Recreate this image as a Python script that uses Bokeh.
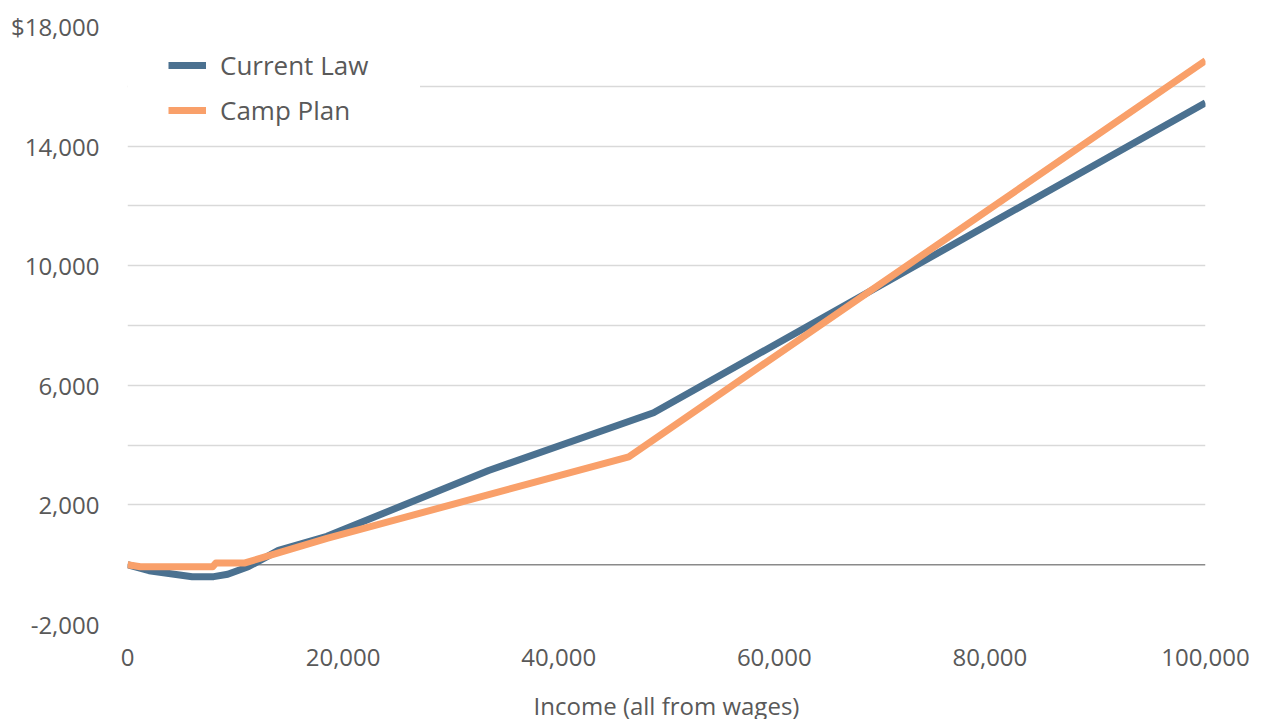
from bokeh.plotting import figure
from bokeh.models import (FixedTicker, Span, Legend, LegendItem, BoxAnnotation,
                          NumeralTickFormatter, Range1d)
from bokeh.embed import file_html
from bokeh.resources import INLINE

# Tax liability by wage income, current law vs. the Camp plan
current_income = [0, 2000, 6000, 8000, 9300, 11200, 14000, 18500, 33500, 48800, 100000]
current_tax = [0, -200, -400, -400, -320, -70, 480, 950, 3150, 5080, 15450]

camp_income = [0, 1200, 7900, 8200, 10900, 18500, 46500, 100000]
camp_tax = [0, -70, -70, 60, 60, 880, 3610, 16860]

x_ticks = [0, 20000, 40000, 60000, 80000, 100000]
y_ticks = [-2000, 0, 2000, 4000, 6000, 8000, 10000, 12000, 14000, 16000, 18000]
y_tick_labels = ["-2,000", "", "2,000", "", "6,000", "", "10,000", "", "14,000", "", "$18,000"]

BLUE = "#4b7190"
ORANGE = "#f9a06a"
TEXT = "#595959"
FONT = "Open Sans"

p = figure(frame_width=1078, frame_height=598,
           min_border_left=127, min_border_right=64,
           min_border_top=26, min_border_bottom=95,
           x_range=Range1d(0, 100000), y_range=Range1d(-2000, 18000),
           output_backend="svg", toolbar_location=None,
           background_fill_color="white", border_fill_color="white")
p.outline_line_color = None

# zero baseline, behind the data lines
p.add_layout(Span(location=0, dimension="width", line_color="#8a8a8a",
                  line_width=1.5, level="underlay"))

r_cur = p.line(current_income, current_tax, line_color=BLUE, line_width=7,
               line_join="round")
r_camp = p.line(camp_income, camp_tax, line_color=ORANGE, line_width=7,
                line_join="round")

# axes
p.xaxis.ticker = FixedTicker(ticks=x_ticks)
p.xaxis.formatter = NumeralTickFormatter(format="0,0")
p.yaxis.ticker = FixedTicker(ticks=y_ticks)
p.yaxis.major_label_overrides = {v: s for v, s in zip(y_ticks, y_tick_labels)}
for ax in (p.xaxis[0], p.yaxis[0]):
    ax.axis_line_color = None
    ax.major_tick_line_color = None
    ax.minor_tick_line_color = None
    ax.major_label_text_font = FONT
    ax.major_label_text_font_size = "24px"
    ax.major_label_text_color = TEXT
p.yaxis.major_label_standoff = 22
p.xaxis.major_label_standoff = 18
p.xaxis.axis_label = "Income (all from wages)"
p.xaxis.axis_label_text_font = FONT
p.xaxis.axis_label_text_font_size = "24px"
p.xaxis.axis_label_text_font_style = "normal"
p.xaxis.axis_label_text_color = TEXT
p.xaxis.axis_label_standoff = 20

# grid
p.xgrid.grid_line_color = None
p.ygrid.ticker = FixedTicker(ticks=[t for t in y_ticks if t != 0])
p.ygrid.grid_line_color = "#d9d9d9"
p.ygrid.grid_line_width = 1.5

# white panel behind the legend
p.add_layout(BoxAnnotation(left=0, right=42, bottom=491, top=577,
                           left_units="screen", right_units="screen",
                           bottom_units="screen", top_units="screen",
                           fill_color="white", fill_alpha=1.0, line_color=None))

legend = Legend(items=[LegendItem(label="Current Law", renderers=[r_cur]),
                       LegendItem(label="Camp Plan", renderers=[r_camp])],
                location=(41, 496), margin=0, padding=10,
                glyph_width=38, glyph_height=22, label_height=22,
                label_standoff=14, spacing=9, label_width=200,
                label_text_font=FONT, label_text_font_size="26px",
                label_text_color=TEXT,
                border_line_color=None, background_fill_color="white",
                background_fill_alpha=1.0)
p.add_layout(legend)

open("out.html", "w").write(file_html(p, INLINE))
